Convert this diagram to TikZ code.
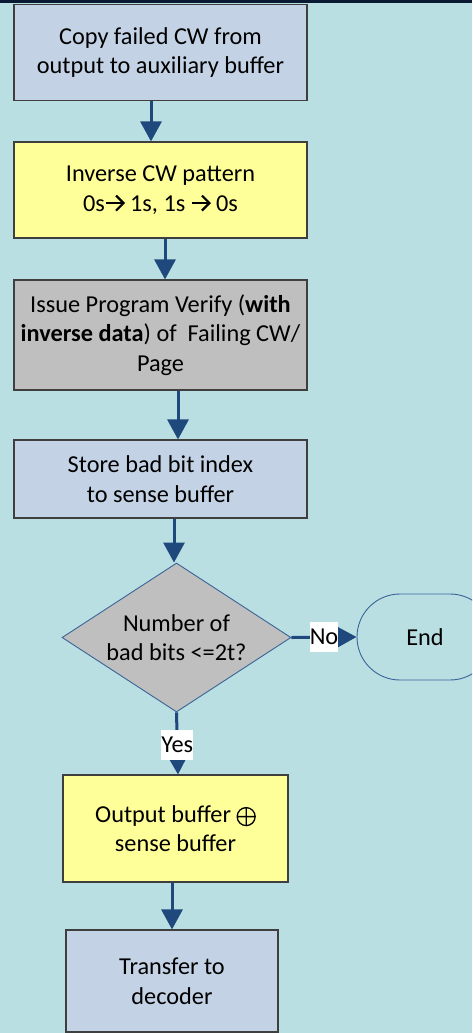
\documentclass[tikz,border=0pt]{standalone}
\usepackage{fontspec}
\setmainfont{Carlito}
\usetikzlibrary{arrows.meta,shapes.geometric}

\definecolor{bgcyan}{HTML}{B9DFE3}
\definecolor{stepblue}{HTML}{C3D3E5}
\definecolor{stepyellow}{HTML}{FFFF99}
\definecolor{stepgray}{HTML}{BFBFBF}
\definecolor{flowblue}{HTML}{1F497D}
\definecolor{edgeblue}{HTML}{3A6496}
\definecolor{boxedge}{HTML}{3F3F3F}
\definecolor{topband}{HTML}{0B1A33}

% inline glyphs drawn with TikZ: a bold arrow with an open head, and a circled plus
\newcommand{\flip}{\tikz[baseline=0pt]{\draw[line width=2.2pt, line cap=butt]
  (0.5pt,8pt) -- (17pt,8pt);
  \draw[line width=2.2pt, line join=miter] (10.5pt,15.5pt) -- (18pt,8pt) -- (10.5pt,0.5pt);}}
\newcommand{\xorsym}{\tikz[baseline=0pt]{\draw[line width=1.3pt]
  (9.5pt,5.5pt) circle[radius=9pt]
  (0.5pt,5.5pt) -- (18.5pt,5.5pt) (9.5pt,-3.5pt) -- (9.5pt,14.5pt);}}

\begin{document}
\begin{tikzpicture}[x=1pt,y=-1pt,
  every node/.style={font=\fontsize{24.3}{29.5}\selectfont, align=center, inner sep=0pt},
  stepbox/.style={draw=boxedge, line width=1.1pt, rectangle},
  flow/.style={draw=flowblue, line width=3pt, -{Triangle[width=21pt,length=20pt]}},
  tag/.style={fill=white, inner xsep=0pt, inner ysep=0pt, minimum height=30pt}
]
% canvas and the dark strip along the top edge
\clip (0,0) rectangle (472,1033);
\fill[bgcyan] (0,0) rectangle (472,1033);
\fill[topband] (0,0) rectangle (472,3.5);

% process steps
\node[stepbox, fill=stepblue, minimum width=293pt, minimum height=95.5pt] (copy) at (160.5,52.5)
  {Copy failed CW from\\output to auxiliary buffer};
\node[stepbox, fill=stepyellow, minimum width=293pt, minimum height=96pt] (inv) at (160.5,190)
  {Inverse CW pattern\\0s\flip{} 1s, 1s \flip{} 0s};
\node[stepbox, fill=stepgray, minimum width=293pt, minimum height=110pt] (verify) at (160.5,335)
  {Issue Program Verify (\textbf{with}\\\textbf{inverse data}) of~ Failing CW/\\Page};
\node[stepbox, fill=stepblue, minimum width=293pt, minimum height=78pt] (store) at (160.5,479)
  {Store bad bit index\\to sense buffer};

% decision
\node[diamond, draw=edgeblue, line width=0.9pt, fill=stepgray, aspect=1.537,
      minimum width=229pt, minimum height=149pt] (dec) at (176.5,637.5)
  {Number of\\bad bits <=2t?};

% terminator, running off the right edge
\node[rectangle, rounded corners=43pt, draw=edgeblue, line width=0.9pt,
      minimum width=136pt, minimum height=86pt] (end) at (425,637) {End};

\node[stepbox, fill=stepyellow, minimum width=225pt, minimum height=107pt] (xor) at (175.5,828.5)
  {Output buffer \xorsym\\sense buffer};
\node[stepbox, fill=stepblue, minimum width=212pt, minimum height=102pt] (xfer) at (172,981)
  {Transfer to\\decoder};

% connectors
\draw[flow] ([xshift=-9.5pt]copy.south) -- ([xshift=-9.5pt]copy.south |- inv.north);
\draw[flow] ([xshift=4.5pt]inv.south) -- ([xshift=4.5pt]inv.south |- verify.north);
\draw[flow] ([xshift=17.5pt]verify.south) -- ([xshift=17.5pt]verify.south |- store.north);
\draw[flow] ([xshift=13.5pt]store.south) -- ([xshift=13.5pt]store.south |- dec.north);
\draw[flow] (dec.east) -- node[tag, pos=0.5] {No} (end.west);
\draw[flow] (dec.south) -- node[tag, pos=0.52] {Yes} ([xshift=2.5pt]xor.north);
\draw[flow] ([xshift=-3.5pt]xor.south) -- ([xshift=-3.5pt]xor.south |- xfer.north);
\end{tikzpicture}
\end{document}
